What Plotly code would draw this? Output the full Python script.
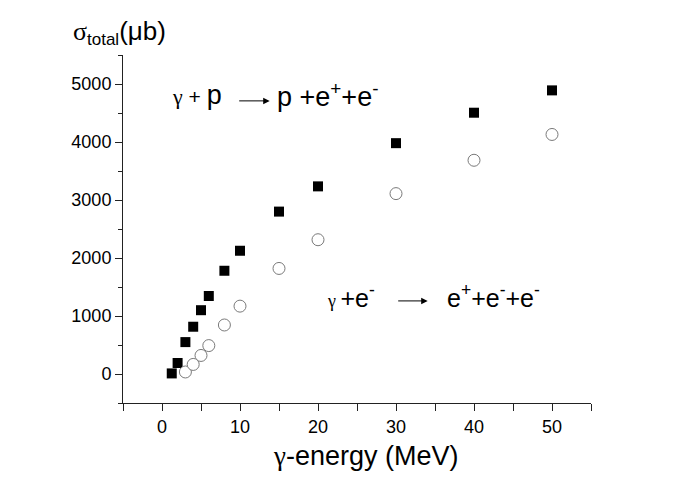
import plotly.graph_objects as go

# gamma + p -> p + e+ + e-
p_energy = [1.25, 2, 3, 4, 5, 6, 8, 10, 15, 20, 30, 40, 50]
p_sigma = [10, 190, 550, 815, 1100, 1345, 1780, 2125, 2800, 3235, 3980, 4505, 4890]
# gamma + e- -> e+ + e- + e-
e_energy = [3, 4, 5, 6, 8, 10, 15, 20, 30, 40, 50]
e_sigma = [35, 165, 320, 490, 845, 1170, 1820, 2315, 3110, 3685, 4130]

x_ticks = [0, 10, 20, 30, 40, 50]
y_ticks = [0, 1000, 2000, 3000, 4000, 5000]
x_range = [-5, 55]
y_range = [-500, 5500]

FONT = "Liberation Sans, Arial, sans-serif"
SYM = "Liberation Serif, DejaVu Serif, serif"

fig = go.Figure()
fig.add_trace(go.Scatter(x=p_energy, y=p_sigma, mode="markers",
                         marker=dict(symbol="square", size=10, color="black",
                                     line=dict(width=0)),
                         showlegend=False, hoverinfo="skip"))
fig.add_trace(go.Scatter(x=e_energy, y=e_sigma, mode="markers",
                         marker=dict(symbol="circle", size=12, color="white",
                                     line=dict(width=1, color="#7a7a7a")),
                         showlegend=False, hoverinfo="skip"))

common = dict(showgrid=False, zeroline=False, showline=True, linecolor="#222",
              linewidth=1, tickcolor="#222", tickwidth=1)

fig.update_layout(
    width=687, height=482,
    margin=dict(l=123, r=96, t=55, b=79, pad=0),
    paper_bgcolor="white", plot_bgcolor="white",
    font=dict(family=FONT, color="black"),
    xaxis=dict(range=x_range, tickvals=x_ticks, ticks="outside", ticklen=7,
               minor=dict(dtick=5, tick0=0, ticks="outside", ticklen=7,
                          tickcolor="#222", tickwidth=1),
               tickfont=dict(size=18), **common),
    xaxis2=dict(range=x_range, overlaying="x", anchor="y", side="top",
                tickvals=x_ticks, ticks="inside", ticklen=7,
                minor=dict(dtick=5, tick0=0, ticks="inside", ticklen=7,
                           tickcolor="#222", tickwidth=1),
                showticklabels=False, **common),
    yaxis=dict(range=y_range, tickvals=y_ticks, ticks="outside", ticklen=7,
               minor=dict(dtick=500, tick0=0, ticks="outside", ticklen=4,
                          tickcolor="#222", tickwidth=1),
               tickfont=dict(size=18), **common),
    yaxis2=dict(range=y_range, overlaying="y", anchor="x", side="right",
                tickvals=y_ticks, ticks="inside", ticklen=7,
                minor=dict(dtick=500, tick0=0, ticks="inside", ticklen=4,
                           tickcolor="#222", tickwidth=1),
                showticklabels=False, **common),
)

def px2x(px):
    return (px - 162.3) / 7.8

def py2y(py):
    return (372.7 - py) / 0.0577

ann = []
# axis titles
ann.append(dict(xref="paper", yref="paper", x=(365 - 123) / 468, y=(402.7 - 456) / 347.7,
                xanchor="center", yanchor="middle", showarrow=False,
                text="<span style='font-family:%s'>γ</span>-energy (MeV)" % SYM,
                font=dict(size=27)))
ann.append(dict(xref="paper", yref="paper", x=(71 - 123) / 468, y=(402.7 - 33) / 347.7,
                xanchor="left", yanchor="middle", showarrow=False,
                text="<span style='font-family:%s'>σ</span><sub><span style='font-size:17px'>total</span></sub>(μb)" % SYM,
                font=dict(size=26)))
# reaction 1
ann.append(dict(x=px2x(170), y=py2y(95), xanchor="left", yanchor="middle", showarrow=False,
                text="<span style='font-family:%s;font-size:22px'>γ</span><span style='font-size:21px'> + </span>p" % SYM,
                font=dict(size=27)))
ann.append(dict(x=px2x(270), y=py2y(101), ax=px2x(238), ay=py2y(101), axref="x", ayref="y",
                text="", showarrow=True, arrowhead=2, arrowsize=1.3, arrowwidth=1,
                arrowcolor="black", standoff=0, startstandoff=0))
ann.append(dict(x=px2x(275), y=py2y(95), xanchor="left", yanchor="middle", showarrow=False,
                text="p +e<sup>+</sup>+e<sup>-</sup>", font=dict(size=27)))
# reaction 2
ann.append(dict(x=px2x(325), y=py2y(295), xanchor="left", yanchor="middle", showarrow=False,
                text="<span style='font-family:%s;font-size:18px'>γ </span>+e<sup>-</sup>" % SYM,
                font=dict(size=25)))
ann.append(dict(x=px2x(428), y=py2y(300), ax=px2x(397), ay=py2y(300), axref="x", ayref="y",
                text="", showarrow=True, arrowhead=2, arrowsize=1.3, arrowwidth=1,
                arrowcolor="black", standoff=0, startstandoff=0))
ann.append(dict(x=px2x(445), y=py2y(295), xanchor="left", yanchor="middle", showarrow=False,
                text="e<sup>+</sup>+e<sup>-</sup>+e<sup>-</sup>", font=dict(size=25)))

fig.update_layout(annotations=ann)
fig.write_html("out.html", config={"displayModeBar": False},
               post_script="document.body.style.margin='0px';")
